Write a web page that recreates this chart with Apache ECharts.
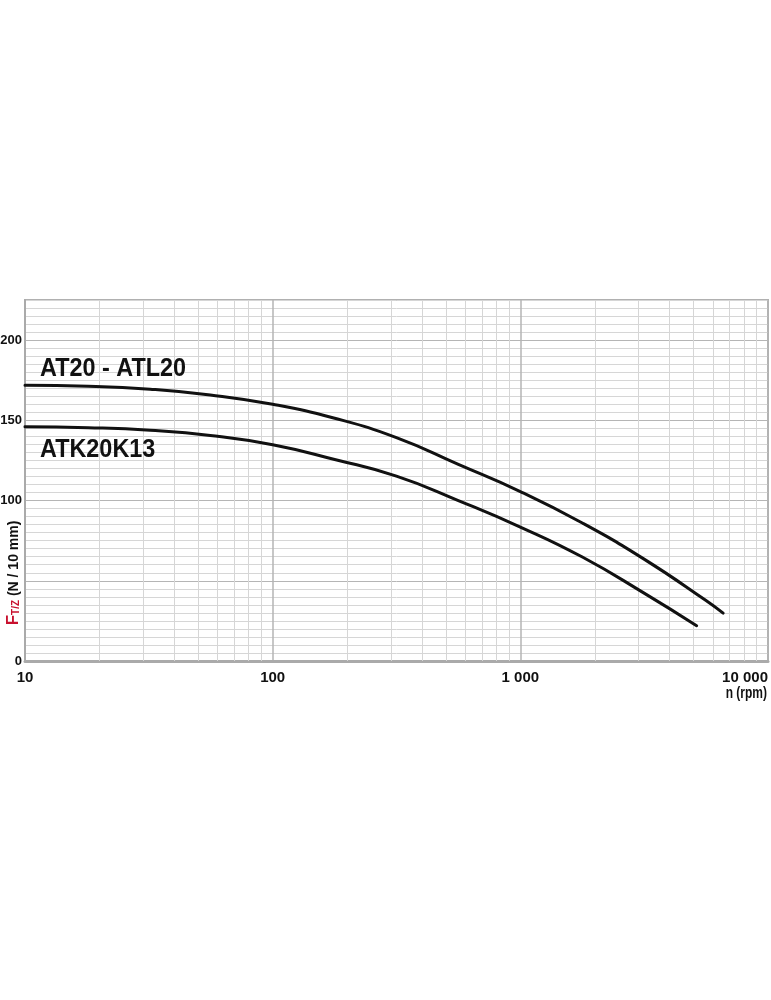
<!DOCTYPE html>
<html>
<head>
<meta charset="utf-8">
<script src="https://cdn.jsdelivr.net/npm/echarts@6/dist/echarts.min.js"></script>
<style>
  html, body { margin: 0; padding: 0; background: #fff; }
  #main { width: 771px; height: 1000px; }
</style>
</head>
<body>
<div id="main"></div>
<script>
// curve AT20 - ATL20 (rpm -> N / 10 mm)
var rpmAT20 = [10, 18, 32, 56, 100, 178, 316, 562, 1000, 1780, 3160, 5620, 6590];
var forceAT20 = [171.9, 171.3, 169.4, 165.8, 160, 151.3, 139.2, 122.5, 105.6, 86, 63.5, 37.7, 29.8];

// curve ATK20K13
var rpmATK = [10, 18, 32, 56, 100, 178, 316, 562, 1000, 1780, 3160, 5150];
var forceATK = [146, 145.4, 143.8, 140.6, 134.8, 125.6, 115.2, 100, 83.5, 64.8, 42.3, 22];

// tick labels
var yTickValues = [0, 100, 150, 200];
var xTickValues = [10, 100, 1000, 10000];
var xTickText = ["10", "100", "1 000", "10 000"];

// log grid lines inside each decade
var xMinorLines = [20, 30, 40, 50, 60, 70, 80, 90,
  200, 300, 400, 500, 600, 700, 800, 900,
  2000, 3000, 4000, 5000, 6000, 7000, 8000, 9000];

var chartDom = document.getElementById("main");
var myChart = echarts.init(chartDom);
var option;

var pairs = function (xs, ys) {
  return xs.map(function (x, i) { return [x, ys[i]]; });
};

// every 10th horizontal line is darker
var yLineColors = ["#b5b5b5"];
for (var i = 1; i < 10; i++) yLineColors.push("#d6d6d6");

var boldFont = "Liberation Sans, Arial";

option = {
  animation: false,
  grid: {
    left: 25,
    right: 3,
    top: 300,
    bottom: 339,
    show: true,
    borderColor: "#b0b0b0",
    borderWidth: 2,
    outerBoundsMode: "none",
  },
  xAxis: {
    type: "log",
    logBase: 10,
    min: 10,
    max: 10000,
    axisLine: { show: true, lineStyle: { color: "#aaa", width: 3 } },
    axisTick: { show: false },
    splitLine: { show: true, lineStyle: { color: "#b5b5b5", width: 1.5 } },
    axisLabel: {
      margin: 9,
      color: "#111",
      fontFamily: boldFont,
      fontWeight: "bold",
      fontSize: 15,
      alignMaxLabel: "right",
      formatter: function (v) {
        var k = xTickValues.indexOf(Math.round(v));
        return k >= 0 ? xTickText[k] : "";
      },
    },
  },
  yAxis: {
    type: "value",
    min: 0,
    max: 225,
    interval: 5,
    axisLine: { show: true, lineStyle: { color: "#aaa", width: 2 } },
    axisTick: { show: false },
    splitLine: { show: true, lineStyle: { color: yLineColors, width: 1 } },
    axisLabel: {
      margin: 3,
      color: "#111",
      fontFamily: boldFont,
      fontWeight: "bold",
      fontSize: 13,
      formatter: function (v) {
        return yTickValues.indexOf(v) >= 0 ? String(v) : "";
      },
    },
  },
  series: [
    {
      // vertical grid lines of the log scale
      type: "line",
      data: [],
      z: 1,
      silent: true,
      markLine: {
        z: 1,
        silent: true,
        symbol: "none",
        label: { show: false },
        lineStyle: { color: "#d6d6d6", width: 1, type: "solid" },
        data: xMinorLines.map(function (v) { return { xAxis: v }; }),
      },
    },
    {
      name: "AT20 - ATL20",
      type: "line",
      z: 6,
      smooth: 0.5,
      showSymbol: false,
      lineStyle: { color: "#111", width: 3, join: "round", cap: "round" },
      data: pairs(rpmAT20, forceAT20),
    },
    {
      name: "ATK20K13",
      type: "line",
      z: 6,
      smooth: 0.5,
      showSymbol: false,
      lineStyle: { color: "#111", width: 3, join: "round", cap: "round" },
      data: pairs(rpmATK, forceATK),
    },
  ],
  graphic: [
    {
      type: "text",
      x: 40,
      y: 369,
      scaleX: 0.9,
      z: 10,
      style: {
        text: "AT20 - ATL20",
        fontFamily: boldFont,
        fontWeight: "bold",
        fontSize: 26,
        fill: "#111",
        align: "left",
        verticalAlign: "middle",
      },
    },
    {
      type: "text",
      x: 40,
      y: 450,
      scaleX: 0.9,
      z: 10,
      style: {
        text: "ATK20K13",
        fontFamily: boldFont,
        fontWeight: "bold",
        fontSize: 26,
        fill: "#111",
        align: "left",
        verticalAlign: "middle",
      },
    },
    {
      type: "text",
      x: 767,
      y: 694,
      scaleX: 0.75,
      z: 10,
      style: {
        text: "n (rpm)",
        fontFamily: boldFont,
        fontWeight: "bold",
        fontSize: 16,
        fill: "#111",
        align: "right",
        verticalAlign: "middle",
      },
    },
    {
      type: "text",
      x: 13,
      y: 573,
      rotation: Math.PI / 2,
      z: 10,
      style: {
        text: "{f|F}{s|T/Z}{n| (N / 10 mm)}",
        align: "center",
        verticalAlign: "middle",
        rich: {
          f: { fontFamily: boldFont, fontWeight: "bold", fontSize: 17, fill: "#c8102e", verticalAlign: "bottom" },
          s: { fontFamily: boldFont, fontWeight: "bold", fontSize: 10, fill: "#c8102e", verticalAlign: "bottom" },
          n: { fontFamily: boldFont, fontWeight: "bold", fontSize: 14, fill: "#111", verticalAlign: "bottom" },
        },
      },
    },
  ],
};

option && myChart.setOption(option);
</script>
</body>
</html>
